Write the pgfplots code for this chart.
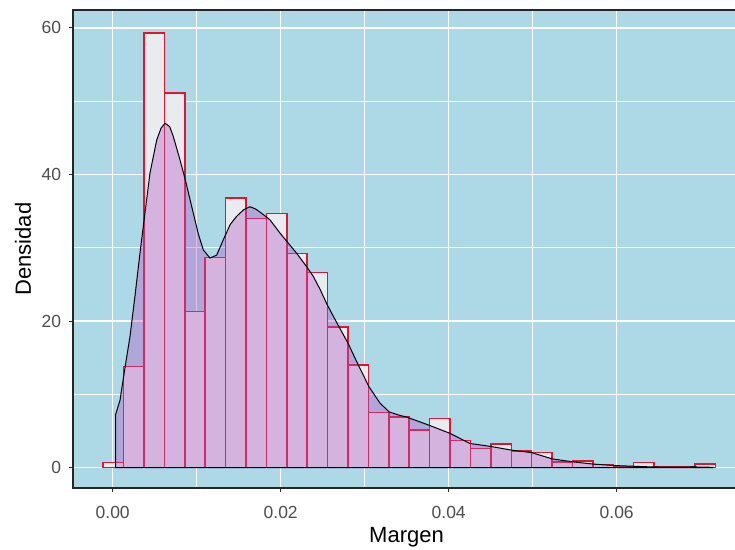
\documentclass[border=0pt]{standalone}
\usepackage{fontspec}
\setmainfont{Liberation Sans}
\usepackage{pgfplots}
\pgfplotsset{compat=1.18}

\definecolor{panelbg}{RGB}{173,216,230}
\definecolor{histfill}{RGB}{232,236,238}
\definecolor{histred}{RGB}{225,20,50}
\definecolor{densfill}{RGB}{180,85,195}
\definecolor{tickgray}{RGB}{77,77,77}

\begin{document}
\begin{tikzpicture}
\begin{axis}[
    scale only axis,
    width=667bp, height=478bp,
    xmin=-0.004726, xmax=0.074679,
    ymin=-2.77, ymax=62.44,
    axis background/.style={fill=panelbg},
    axis line style={draw=black!85, line width=1.1bp},
    tick align=outside,
    major tick length=3.6bp,
    minor tick length=0pt,
    tick style={draw=black!85, line width=1bp},
    xtick={0,0.02,0.04,0.06},
    ytick={0,20,40,60},
    scaled x ticks=false,
    minor x tick num=1,
    minor y tick num=1,
    xtick pos=bottom, ytick pos=left,
    grid=both,
    major grid style={white, line width=1.4bp},
    minor grid style={white, line width=0.7bp},
    /pgf/number format/assume math mode=true,
    xticklabel style={/pgf/number format/fixed, /pgf/number format/fixed zerofill, /pgf/number format/precision=2},
    every tick label/.append style={font=\fontsize{17.5bp}{21bp}\selectfont, text=tickgray, inner sep=0pt},
    every x tick label/.append style={anchor=base, yshift=-27bp},
    every y tick label/.append style={anchor=east, xshift=-8bp},
    xlabel={Margen}, ylabel={Densidad},
    every axis x label/.style={at={(axis description cs:0.5,-0.115)}, anchor=base, font=\fontsize{22bp}{26bp}\selectfont},
    every axis y label/.style={at={(axis description cs:-0.075,0.5)}, rotate=90, anchor=center, font=\fontsize{22bp}{26bp}\selectfont},
]
% histogram (bin edges, density values)
\addplot[ybar interval, fill=histfill, draw=histred, line width=1.5bp] coordinates {
(-0.00113,0.7) (0.00129,13.8) (0.00372,59.3) (0.00615,51.1) (0.00858,21.3)
(0.01101,28.7) (0.01344,36.8) (0.01587,34.0) (0.01830,34.7) (0.02073,29.2)
(0.02316,26.65) (0.02558,19.2) (0.02801,14.0) (0.03044,7.55) (0.03287,6.9)
(0.03530,5.15) (0.03773,6.7) (0.04016,3.7) (0.04259,2.65) (0.04502,3.2)
(0.04745,2.25) (0.04987,2.1) (0.05230,0.8) (0.05473,0.9) (0.05716,0.45)
(0.05959,0.15) (0.06202,0.7) (0.06445,0.1) (0.06688,0.15) (0.06931,0.5)
(0.07174,0)
};
% kernel density
\addplot[fill=densfill, fill opacity=0.37, draw=black, line width=1bp] coordinates {
(0.00036,0) (0.00036,7.3) (0.00087,9.2) (0.00146,13.6) (0.00206,17.9)
(0.00265,23.4) (0.00325,29.3) (0.00385,34.8) (0.00444,40.2) (0.00524,44.7)
(0.00575,46.3) (0.00623,47.0) (0.00680,46.5) (0.00721,45.2) (0.00801,42.0)
(0.00864,39.3) (0.00960,34.7) (0.01019,31.9) (0.01079,29.7) (0.01158,28.6)
(0.01238,29.0) (0.01317,31.1) (0.01400,33.2) (0.01476,34.3) (0.01560,35.2)
(0.01635,35.6) (0.01700,35.3) (0.01774,34.7) (0.01873,33.8) (0.01992,32.0)
(0.02071,30.9) (0.02190,29.25) (0.02310,27.4) (0.02388,26.1) (0.02470,24.3)
(0.02555,22.2) (0.02667,19.8) (0.02805,16.9) (0.02924,14.0) (0.03051,11.05)
(0.03182,8.8) (0.03293,7.6) (0.03400,7.2) (0.03500,6.9) (0.03765,5.8)
(0.04012,4.7) (0.04254,3.3) (0.04500,2.9) (0.04745,2.4) (0.04988,2.05)
(0.05233,1.2) (0.05476,0.8) (0.05714,0.5) (0.05956,0.3) (0.06194,0.2)
(0.06432,0.1) (0.06671,0.08) (0.06932,0.1) (0.07146,0.05) (0.07146,0)
} -- cycle;
\end{axis}
\pgfresetboundingbox
\path[use as bounding box] ([shift={(-73bp,-62bp)}]current axis.south west) rectangle ++(735bp,550bp);
\end{tikzpicture}
\end{document}
